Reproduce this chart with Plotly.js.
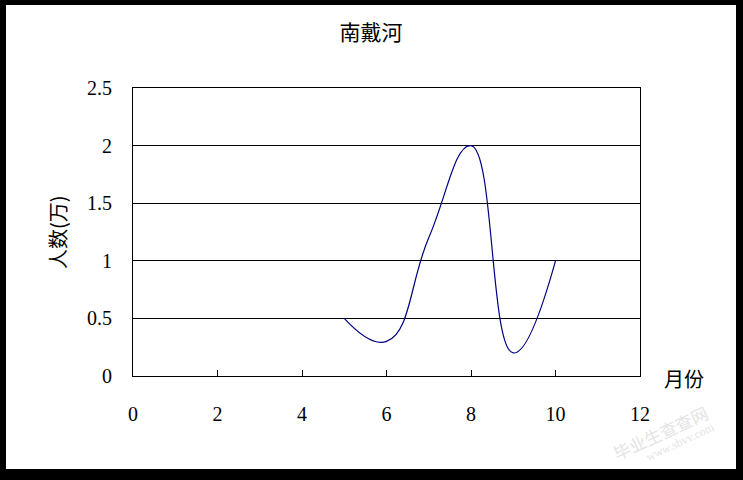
<!DOCTYPE html>
<html>
<head>
<meta charset="utf-8">
<script src="https://cdn.plot.ly/plotly-3.0.1.min.js"></script>
<style>
  html, body { margin: 0; padding: 0; background: #000; }
  #chart { position: absolute; left: 6px; top: 5px; width: 730px; height: 464px; background: #fff; }
</style>
</head>
<body>
<div id="chart"></div>
<script>
// 南戴河 各月人数 (万)
let months = [5, 6, 7, 8, 9, 10];
let visitors = [0.5, 0.3, 1.2, 2.0, 0.2, 1.0];
let xTicks = [0, 2, 4, 6, 8, 10, 12];
let yTicks = [0, 0.5, 1, 1.5, 2, 2.5];

let chartDiv = document.getElementById('chart');

let tickFont = { family: 'Liberation Serif, Noto Sans CJK SC, serif', size: 20, color: '#000' };
let cjkFont = { family: 'Noto Sans CJK SC, sans-serif', size: 20, color: '#000' };

let trace = {
    type: 'scatter',
    mode: 'lines',
    x: months,
    y: visitors,
    line: { color: '#000080', width: 1.2, shape: 'spline', smoothing: 1.3 },
    hoverinfo: 'x+y'
};

let layout = {
    width: 730,
    height: 464,
    margin: { l: 127, r: 96, t: 83, b: 93 },
    paper_bgcolor: '#fff',
    plot_bgcolor: '#fff',
    showlegend: false,
    title: {
        text: '南戴河',
        font: { family: 'Noto Sans CJK SC, sans-serif', size: 21, color: '#000' },
        x: 0.5,
        xref: 'container',
        xanchor: 'center',
        y: 1 - 28 / 464,
        yref: 'container',
        yanchor: 'middle'
    },
    xaxis: {
        range: [0, 12],
        tickvals: xTicks,
        ticktext: xTicks.map(String),
        showgrid: false,
        zeroline: false,
        showline: true,
        mirror: true,
        linecolor: '#000',
        linewidth: 1,
        ticks: 'inside',
        ticklen: 6,
        tickcolor: '#000',
        tickfont: tickFont,
        ticklabelstandoff: 20
    },
    yaxis: {
        range: [0, 2.5],
        tickvals: yTicks,
        ticktext: yTicks.map(String),
        showgrid: true,
        gridcolor: '#000',
        gridwidth: 1,
        zeroline: false,
        showline: true,
        mirror: true,
        linecolor: '#000',
        linewidth: 1,
        ticks: '',
        tickfont: tickFont,
        ticklabelstandoff: 16
    },
    annotations: [
        {
            xref: 'paper', yref: 'paper',
            x: -76 / 507, y: 0.5,
            text: '人数(万)',
            textangle: -90,
            showarrow: false,
            xanchor: 'center', yanchor: 'middle',
            font: cjkFont
        },
        {
            xref: 'paper', yref: 'paper',
            x: (684 - 133) / 507, y: (376 - 378) / 288,
            text: '月份',
            showarrow: false,
            xanchor: 'center', yanchor: 'middle',
            font: cjkFont
        },
        {
            xref: 'paper', yref: 'paper',
            x: (660 - 133) / 507, y: (376 - 432) / 288,
            text: '毕业生查查网',
            textangle: -25,
            showarrow: false,
            xanchor: 'center', yanchor: 'middle',
            font: { family: 'Noto Sans CJK SC, sans-serif', size: 17, color: '#e4e4e4' }
        },
        {
            xref: 'paper', yref: 'paper',
            x: (680 - 133) / 507, y: (376 - 442) / 288,
            text: 'www.sbvv.com',
            textangle: -25,
            showarrow: false,
            xanchor: 'center', yanchor: 'middle',
            font: { family: 'Liberation Serif, serif', size: 12, color: '#e4e4e4' }
        }
    ]
};

Plotly.newPlot(chartDiv, [trace], layout, { displayModeBar: false, staticPlot: true });
</script>
</body>
</html>
